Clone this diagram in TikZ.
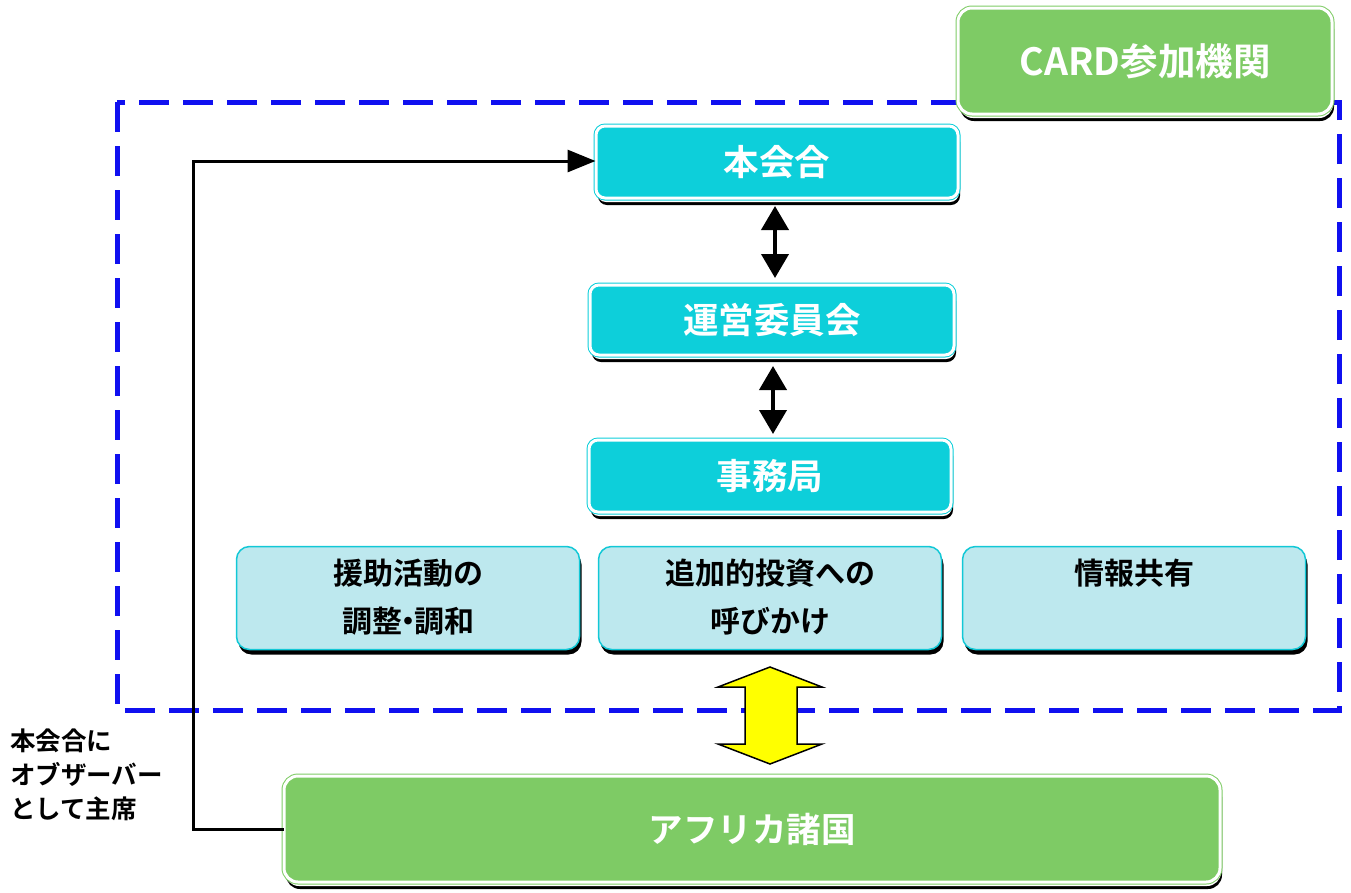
\documentclass[tikz,border=0pt]{standalone}
\usepackage{fontspec}
\setmainfont{Noto Sans CJK JP}[BoldFont={Noto Sans CJK JP Bold}]
\usetikzlibrary{arrows.meta,shadows}
\definecolor{cyanbox}{HTML}{0DCFDA}
\definecolor{greenbox}{HTML}{7ECB65}
\definecolor{lightbox}{HTML}{BDE8EE}
\definecolor{lightedge}{HTML}{12C8D6}
\definecolor{dashblue}{HTML}{1010F0}
\definecolor{arrowyellow}{HTML}{FFFF00}
\tikzset{
  x=1pt, y=-1pt,
  fancybox/.style={rounded corners=9pt, line width=1pt, double=white, double distance=3pt,
    general shadow={fill=black, shadow xshift=2pt, shadow yshift=-7pt},
    general shadow={fill=white, shadow xshift=1pt, shadow yshift=-4pt},
    font=\bfseries, text=white, inner sep=0pt},
  cyanstyle/.style={fancybox, draw=cyanbox, fill=cyanbox, font=\fontsize{35.5}{38}\selectfont\bfseries},
  greenstyle/.style={fancybox, draw=greenbox, fill=greenbox, rounded corners=14pt},
  taskbox/.style={rounded corners=13pt, draw=lightedge, fill=lightbox, line width=1.5pt,
    general shadow={fill=black, shadow xshift=2pt, shadow yshift=-5pt},
    minimum width=343pt, minimum height=103pt, inner sep=0pt},
  tasktext/.style={font=\fontsize{30}{48}\selectfont\bfseries, align=center, anchor=north, inner sep=0pt},
  dbl/.style={{Triangle[width=27pt,length=24pt]}-{Triangle[width=27pt,length=24pt]}, line width=4pt},
}
\begin{document}
\begin{tikzpicture}
\useasboundingbox (0,0) rectangle (1351,892);
% dashed region
\draw[dashblue, line width=5pt, dash pattern=on 30pt off 14pt] (117,102) rectangle (1339,710);
% CARD box
\node[greenstyle, minimum width=374pt, minimum height=106pt, font=\fontsize{37.5}{40}\selectfont\bfseries] (card) at (1145,61) {CARD参加機関};
% main cyan boxes
\node[cyanstyle, minimum width=362pt, minimum height=72pt] (honkai) at (777,162) {本会合};
\node[cyanstyle, minimum width=364pt, minimum height=70pt] (unei) at (772,320) {運営委員会};
\node[cyanstyle, minimum width=362pt, minimum height=72pt] (jimu) at (770,476) {事務局};
% arrows
\draw[dbl] (775,206) coordinate (a1) -- (775,278) coordinate (a2);
\draw[dbl] (773,366) coordinate (b1) -- (773,434) coordinate (b2);
% task boxes
\node[taskbox] (t1) at (408,598) {};
\node[taskbox] (t2) at (770,598) {};
\node[taskbox] (t3) at (1134,598) {};
\node[tasktext] at (408,559) {援助活動の\\調整\hspace{-0.3em}・\hspace{-0.3em}調和};
\node[tasktext] at (770,559) {追加的投資への\\呼びかけ};
\node[tasktext] at (1134,559) {情報共有};
% yellow double arrow
\draw[fill=arrowyellow, line width=1.5pt, line join=miter]
  (770,667) -- (822,687) -- (797,687) -- (797,744) -- (822,744) -- (770,764)
  -- (718,744) -- (745,744) -- (745,687) -- (718,687) -- cycle;
% Africa box
\node[greenstyle, minimum width=936pt, minimum height=106pt, font=\fontsize{34.5}{38}\selectfont\bfseries] (africa) at (752,829) {アフリカ諸国};
% connector
\coordinate (c1) at (193,829);
\coordinate (c2) at (193,161);
\draw[line width=3pt, -{Triangle[width=22pt,length=28pt]}] (africa.west) -- (c1) -- (c2) -- (honkai.west |- c2);
% label
\node[anchor=north west, align=left, inner sep=0pt, font=\fontsize{25.5}{34}\selectfont\bfseries] (lbl) at (10,729) {本会合に\\オブザーバー\\として主席};
\end{tikzpicture}
\end{document}
